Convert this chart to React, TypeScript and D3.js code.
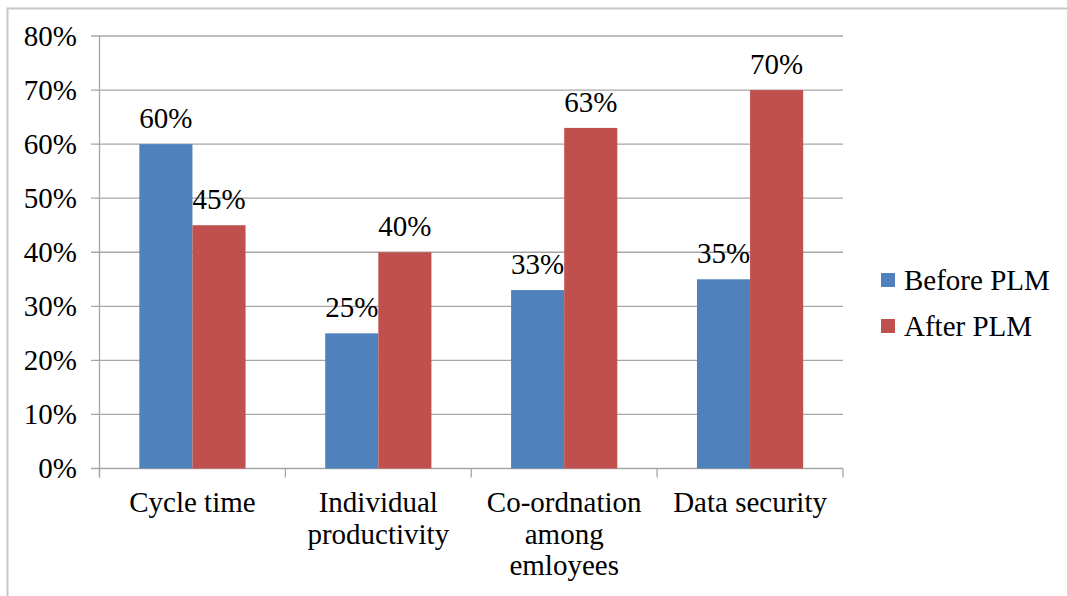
import React from "react";
import * as d3 from "d3";

const categories: string[][] = [
  ["Cycle time"],
  ["Individual", "productivity"],
  ["Co-ordnation", "among", "emloyees"],
  ["Data security"],
];
const seriesNames = ["Before PLM", "After PLM"];
const beforePLM = [60, 25, 33, 35];
const afterPLM = [45, 40, 63, 70];
const yTicks = [0, 10, 20, 30, 40, 50, 60, 70, 80];
const colors = ["#4F81BD", "#C0504D"];

const W = 1067;
const H = 596;
const left = 99.5;
const right = 843;
const top = 36;
const bottom = 468.5;
const font = "'Liberation Serif', 'Times New Roman', serif";
const fs = 29;

export default function App() {
  const x = d3
    .scaleBand<number>()
    .domain(d3.range(categories.length))
    .range([left, right])
    .paddingInner(0)
    .paddingOuter(0);
  const y = d3.scaleLinear().domain([0, 80]).range([bottom, top]);
  const bw = x.bandwidth();
  const barW = bw / 3.5;
  const gap = (bw - 2 * barW) / 2;
  const series = [beforePLM, afterPLM];

  return (
    <svg
      width={W}
      height={H}
      style={{ position: "absolute", left: 0, top: 0, background: "#fff" }}
      fontFamily={font}
    >
      <rect x={7.5} y={8.5} width={1080} height={600} fill="none" stroke="#C8C8C8" strokeWidth={2} />
      {yTicks.map((t) => (
        <g key={t}>
          <line x1={91} x2={right} y1={y(t)} y2={y(t)} stroke="#A6A6A6" strokeWidth={1.3} />
          <text x={77} y={y(t) + 9.5} fontSize={fs} textAnchor="end" fill="#000">
            {t}%
          </text>
        </g>
      ))}
      <line x1={left} x2={left} y1={top} y2={bottom + 9} stroke="#A6A6A6" strokeWidth={1.3} />
      {d3.range(categories.length + 1).map((i) => {
        const xx = i < categories.length ? (x(i) as number) : right;
        return (
          <line key={i} x1={xx} x2={xx} y1={bottom} y2={bottom + 9} stroke="#A6A6A6" strokeWidth={1.3} />
        );
      })}
      {series.map((vals, s) =>
        vals.map((v, i) => {
          const bx = (x(i) as number) + gap + s * barW;
          return (
            <g key={`${s}-${i}`}>
              <rect x={bx} y={y(v)} width={barW} height={bottom - y(v)} fill={colors[s]} />
              <text x={bx + barW / 2} y={y(v) - 16} fontSize={fs} textAnchor="middle" fill="#000">
                {v}%
              </text>
            </g>
          );
        })
      )}
      {categories.map((lines, i) => (
        <text key={i} fontSize={fs} textAnchor="middle" fill="#000">
          {lines.map((l, j) => (
            <tspan key={j} x={(x(i) as number) + bw / 2} y={512 + j * 31.5}>
              {l}
            </tspan>
          ))}
        </text>
      ))}
      {seriesNames.map((n, s) => (
        <g key={n}>
          <rect x={881} y={273 + s * 46} width={14} height={14} fill={colors[s]} />
          <text x={904} y={290 + s * 46} fontSize={fs} fill="#000">
            {n}
          </text>
        </g>
      ))}
    </svg>
  );
}
